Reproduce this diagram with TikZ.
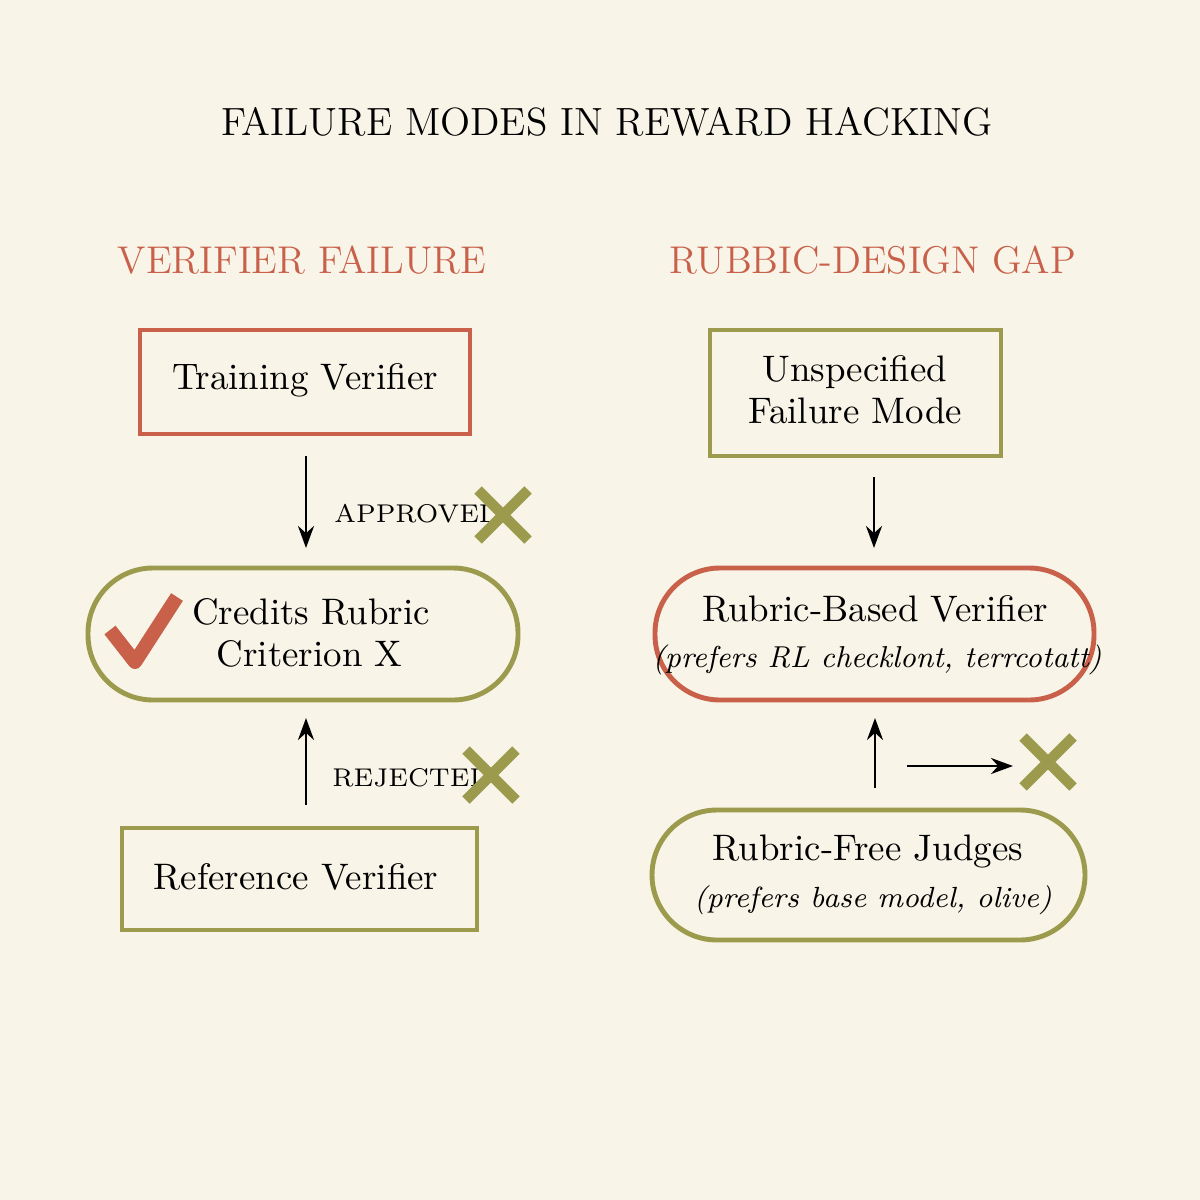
\documentclass[tikz,border=0pt]{standalone}
\begin{document}
\definecolor{bg}{HTML}{F8F4E8}
\definecolor{terra}{HTML}{C8604A}
\definecolor{olive}{HTML}{9C9A4C}
\begin{tikzpicture}[x=0.1mm,y=-0.1mm,
  rbox/.style={draw=#1,line width=0.9pt,minimum width=0pt,align=center},
  pill/.style={draw=#1,line width=1.4pt,rounded corners=6.5mm,align=center},
  arr/.style={-{Stealth[length=2.2mm,width=1.6mm]},line width=0.8pt},
  xmark/.style={olive,line width=3pt},
  lbl/.style={font=\fontsize{7.3}{9}\selectfont},
  txt/.style={font=\fontsize{10.5}{13}\selectfont}]
\usetikzlibrary{arrows.meta}
\fill[bg] (0,0) rectangle (1200,1200);
\node[font=\fontsize{11.2}{13}\selectfont] (title) at (607,122) {FAILURE MODES IN REWARD HACKING};
\node[font=\fontsize{11}{13}\selectfont,text=terra] (h1) at (302,260) {VERIFIER FAILURE};
\node[font=\fontsize{11}{13}\selectfont,text=terra] (h2) at (873,260) {RUBBIC-DESIGN GAP};
% left
\draw[terra,line width=0.9pt] (140,330) rectangle (470,434);
\node[txt] (tv) at (305,380) {Training Verifier};
\draw[olive,line width=1.4pt,rounded corners=6.5mm] (88,568) rectangle (518,700);
\node[txt,align=left] (cr) at (311,633) {Credits Rubric\\[-1pt]\ \ Criterion X};
\draw[terra,line width=4pt,line join=round] (110,630) -- (135,662) -- (177,597);
\draw[olive,line width=0.9pt] (122,828) rectangle (477,930);
\node[txt] (rv) at (296,877) {Reference Verifier};
\coordinate (a1) at (306,456); \coordinate (a2) at (306,548);
\draw[arr] (a1) -- (a2);
\node[lbl,anchor=west] (ap) at (322,514) {APPROVED};
\draw[xmark] (478,490) -- (528,540) (478,540) -- (528,490);
\coordinate (b1) at (306,805); \coordinate (b2) at (306,718);
\draw[arr] (b1) -- (b2);
\node[lbl,anchor=west] (rj) at (320,778) {REJECTED};
\draw[xmark] (466,750) -- (516,800) (466,800) -- (516,750);
% right
\draw[olive,line width=0.9pt] (710,330) rectangle (1001,456);
\node[txt,align=center] (un) at (855,390) {Unspecified\\[-1pt]Failure Mode};
\coordinate (c1) at (874,477); \coordinate (c2) at (874,548);
\draw[arr] (c1) -- (c2);
\draw[terra,line width=1.4pt,rounded corners=6.5mm] (655,568) rectangle (1094,700);
\node[txt] (rb) at (875,609) {Rubric-Based Verifier};
\node[font=\fontsize{8.6}{10}\selectfont\itshape] (rbi) at (877,660) {(prefers RL checklont, terrcotatt)};
\coordinate (d1) at (875,788); \coordinate (d2) at (875,718);
\draw[arr] (d1) -- (d2);
\coordinate (e1) at (907,766); \coordinate (e2) at (1013,766);
\draw[arr] (e1) -- (e2);
\draw[xmark] (1023,737) -- (1073,787) (1023,787) -- (1073,737);
\draw[olive,line width=1.4pt,rounded corners=6.5mm] (652,810) rectangle (1085,940);
\node[txt] (rf) at (868,851) {Rubric-Free Judges};
\node[font=\fontsize{8.3}{10}\selectfont\itshape] (rfi) at (873,900) {(prefers base model, olive)};
\end{tikzpicture}
\end{document}
